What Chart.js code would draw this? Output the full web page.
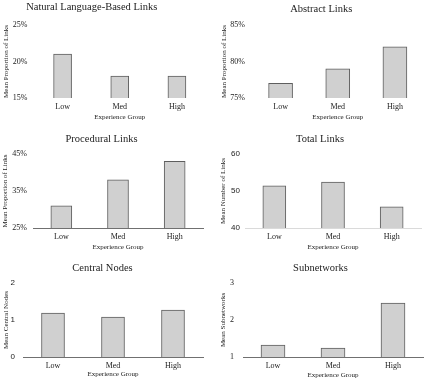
<!DOCTYPE html>
<html>
<head>
<meta charset="utf-8">
<script src="https://cdn.jsdelivr.net/npm/chart.js@4.4.0/dist/chart.umd.min.js"></script>
<style>
  html, body { margin: 0; padding: 0; background: #fff; }
  body { width: 429px; height: 381px; position: relative; overflow: hidden; }
  canvas { position: absolute; }
</style>
</head>
<body>
<script>
// data
const groups = ['Low', 'Med', 'High'];
const naturalLanguageLinks = [21, 18, 18];
const abstractLinks = [77, 79, 82];
const proceduralLinks = [31, 38, 43];
const totalLinks = [51.4, 52.4, 45.7];
const centralNodes = [1.19, 1.08, 1.27];
const subnetworks = [1.32, 1.24, 2.46];

// y axis: [min, max, step]
const naturalTicks = [15, 25, 5];
const abstractTicks = [75, 85, 5];
const proceduralTicks = [25, 45, 10];
const totalTicks = [40, 60, 10];
const centralTicks = [0, 2, 1];
const subnetTicks = [1, 3, 1];

const SERIF = '"Liberation Serif", serif';
const SANS = '"Liberation Sans", sans-serif';
const INK = '#222';
const TITLE_LH = 10.5 * 1.2;

// cell = [top, right, bottom] of the panel, plot = [left, top, right, bottom], title = [centerX, centerY] (page px)
const panels = [
    { title: 'Natural Language-Based Links', yTitle: 'Mean Proportion of Links', values: naturalLanguageLinks, ticks: naturalTicks, pct: true,
      cell: [0, 214, 127], plot: [33.5, 25, 204.5, 98], titleAt: [91, 7], barW: 18, tickPad: 6.5, yTitleX: 5.5, xTitleY: 117, axis: null, tickFont: SERIF },
    { title: 'Abstract Links', yTitle: 'Mean Proportion of Links', values: abstractLinks, ticks: abstractTicks, pct: true,
      cell: [0, 429, 127], plot: [251.5, 25, 422.5, 98], titleAt: [320.5, 9.2], barW: 24, tickPad: 7, yTitleX: 223.5, xTitleY: 117.5, axis: null, tickFont: SERIF },
    { title: 'Procedural Links', yTitle: 'Mean Proportion of Links', values: proceduralLinks, ticks: proceduralTicks, pct: true,
      cell: [127, 214, 255], plot: [33, 154, 203, 228], titleAt: [101.5, 139.2], barW: 21, tickPad: 6, yTitleX: 5.5, xTitleY: 247, axis: '#707070', tickFont: SERIF },
    { title: 'Total Links', yTitle: 'Mean Number of Links', values: totalLinks, ticks: totalTicks, pct: false,
      cell: [127, 429, 255], plot: [245, 154, 421, 228], titleAt: [320, 139.2], barW: 23, tickPad: 5, yTitleX: 223.5, xTitleY: 246.7, axis: '#dadada', tickFont: SANS },
    { title: 'Central Nodes', yTitle: 'Mean Central Nodes', values: centralNodes, ticks: centralTicks, pct: false,
      cell: [255, 214, 381], plot: [23, 283, 203, 357], titleAt: [102.5, 268.3], barW: 23, tickPad: 8, yTitleX: 5.8, xTitleY: 374, axis: '#707070', tickFont: SANS },
    { title: 'Subnetworks', yTitle: 'Mean Subnetworks', values: subnetworks, ticks: subnetTicks, pct: false,
      cell: [255, 429, 381], plot: [243, 283, 423, 357], titleAt: [320.5, 268.3], barW: 24, tickPad: 9, yTitleX: 223.5, xTitleY: 375, axis: '#707070', tickFont: SERIF }
];

panels.forEach(p => {
    const [top, right, bottom] = p.cell;
    const [pl, pt, pr, pb] = p.plot;
    // the built-in title is centred on the canvas (minus right padding), so place the canvas so that centre lands where the figure has it
    const left = 2 * p.titleAt[0] - pr;
    const w = right - left;
    const h = bottom - top;
    const tPadTop = p.titleAt[1] - top - TITLE_LH / 2;
    const tPadBottom = pt - top - TITLE_LH - tPadTop;

    const cv = document.createElement('canvas');
    cv.width = Math.round(w);
    cv.height = h;
    cv.style.left = left + 'px';
    cv.style.top = top + 'px';
    document.body.appendChild(cv);

    new Chart(cv, {
        type: 'bar',
        data: {
            labels: groups,
            datasets: [{
                data: p.values,
                backgroundColor: '#d0d0d0',
                borderColor: '#5e5e5e',
                borderWidth: 1,
                barThickness: p.barW
            }]
        },
        options: {
            responsive: false,
            animation: false,
            devicePixelRatio: 1,
            layout: { padding: { top: 0, right: right - pr, left: 0, bottom: 0 } },
            plugins: {
                legend: { display: false },
                tooltip: { enabled: false },
                title: {
                    display: true,
                    text: p.title,
                    color: INK,
                    font: { family: SERIF, size: 10.5, weight: 'normal', lineHeight: 1.2 },
                    padding: { top: tPadTop, bottom: tPadBottom }
                }
            },
            scales: {
                x: {
                    grid: { display: false, drawTicks: false },
                    border: { display: !!p.axis, color: p.axis || '#000', width: 1 },
                    ticks: { padding: 4, color: INK, font: { family: SERIF, size: 8 } },
                    title: { display: true, text: 'Experience Group', color: INK, font: { family: SERIF, size: 7, lineHeight: 1.2 }, padding: { top: 0, bottom: bottom - p.xTitleY - 4.2 } },
                    afterFit: s => { s.height = bottom - pb; }
                },
                y: {
                    min: p.ticks[0],
                    max: p.ticks[1],
                    grid: { display: false, drawTicks: false },
                    border: { display: false },
                    ticks: {
                        stepSize: p.ticks[2],
                        padding: p.tickPad,
                        color: INK,
                        font: { family: p.tickFont, size: 8 },
                        callback: v => p.pct ? v + '%' : v
                    },
                    title: { display: true, text: p.yTitle, color: INK, font: { family: SERIF, size: 7, lineHeight: 1.2 }, padding: { top: p.yTitleX - left - 4.2, bottom: 0 } },
                    afterFit: s => { s.width = pl - left; }
                }
            }
        }
    });
});
</script>
</body>
</html>
